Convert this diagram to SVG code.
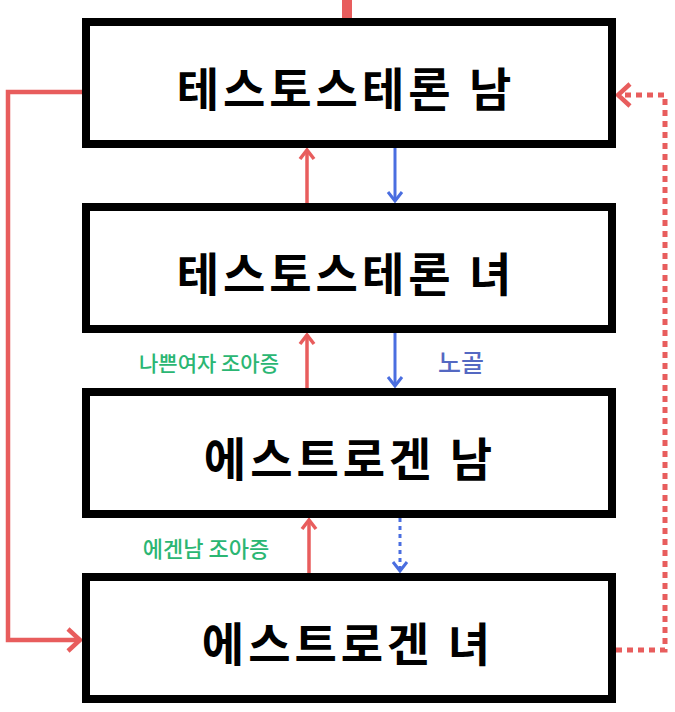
<svg xmlns="http://www.w3.org/2000/svg" width="675" height="712" viewBox="0 0 675 712">
<style>
.box{fill:#fff;stroke:#000;stroke-width:8}
.title{font-family:"Noto Sans CJK KR","Noto Sans",sans-serif;font-weight:700;font-size:46px;letter-spacing:4px;fill:#000;text-anchor:middle;dominant-baseline:central}
.lbl{font-family:"Noto Sans CJK KR","Noto Sans",sans-serif;font-weight:500;font-size:21px;text-anchor:middle;dominant-baseline:central}
.red{stroke:#e85d5d;fill:none}
.blue{stroke:#4a6ee0;fill:none}
</style>
<defs>
<marker id="ahRedBig" viewBox="0 0 20 28" refX="17" refY="14" markerWidth="20" markerHeight="28" orient="auto" markerUnits="userSpaceOnUse"><path d="M5,3 L17,14 L5,25" fill="none" stroke="#e85d5d" stroke-width="4.5"/></marker>
<marker id="ahRed" viewBox="0 0 14 18" refX="12" refY="9" markerWidth="14" markerHeight="18" orient="auto" markerUnits="userSpaceOnUse"><path d="M3,2 L12,9 L3,16" fill="none" stroke="#e85d5d" stroke-width="3.5"/></marker>
<marker id="ahBlue" viewBox="0 0 14 18" refX="12" refY="9" markerWidth="14" markerHeight="18" orient="auto" markerUnits="userSpaceOnUse"><path d="M3,2 L12,9 L3,16" fill="none" stroke="#4a6ee0" stroke-width="3"/></marker>
</defs>
<g id="connectors">
<line class="red" x1="347" y1="0" x2="347" y2="20" stroke-width="10"/>
<polyline class="red" points="84,92 8,92 8,640 80,640" stroke-width="4.5" marker-end="url(#ahRedBig)"/>
<polyline class="red" points="616,650 665,650 665,95 618,95" stroke-width="5" stroke-dasharray="6 5" marker-end="url(#ahRedBig)"/>
<line class="red" x1="307" y1="203" x2="307" y2="150" stroke-width="3.5" marker-end="url(#ahRed)"/>
<line class="blue" x1="395" y1="148" x2="395" y2="201" stroke-width="3" marker-end="url(#ahBlue)"/>
<line class="red" x1="307" y1="388" x2="307" y2="335" stroke-width="3.5" marker-end="url(#ahRed)"/>
<line class="blue" x1="395" y1="333" x2="395" y2="386" stroke-width="3" marker-end="url(#ahBlue)"/>
<line class="red" x1="309" y1="573" x2="309" y2="520" stroke-width="3.5" marker-end="url(#ahRed)"/>
<line class="blue" x1="400" y1="518" x2="400" y2="571" stroke-width="3" stroke-dasharray="4 4" marker-end="url(#ahBlue)"/>
</g>
<g id="label-bad-woman"><text class="lbl" x="209" y="362" fill="#2bb673">나쁜여자 조아증</text></g>
<g id="label-nogol"><text class="lbl" x="461" y="361" fill="#5468c2" style="font-size:25px">노골</text></g>
<g id="label-egen"><text class="lbl" x="206" y="547" fill="#2bb673" style="font-size:22px">에겐남 조아증</text></g>
<g id="node-t-male"><rect class="box" x="86" y="22" width="526" height="122"/><text class="title" x="346" y="86">테스토스테론 남</text></g>
<g id="node-t-female"><rect class="box" x="86" y="207" width="526" height="122"/><text class="title" x="346" y="271">테스토스테론 녀</text></g>
<g id="node-e-male"><rect class="box" x="86" y="392" width="526" height="122"/><text class="title" x="350" y="456">에스트로겐 남</text></g>
<g id="node-e-female"><rect class="box" x="86" y="577" width="526" height="122"/><text class="title" x="348" y="641">에스트로겐 녀</text></g>
</svg>
